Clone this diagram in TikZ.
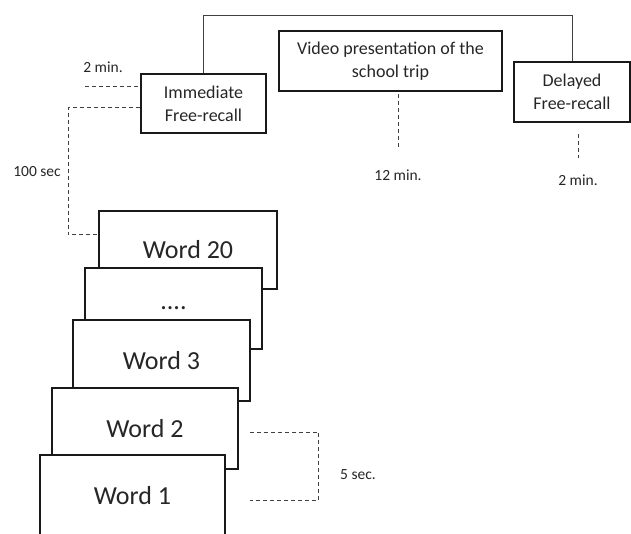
\documentclass[tikz,border=0pt]{standalone}
\usepackage{fontspec}
\setmainfont{Carlito}
\begin{document}
\begin{tikzpicture}[
        x=1pt, y=-1pt,
        font=\fontsize{18}{23}\selectfont,
        task/.style={
            draw=black!90,
            line width=1.8pt,
            align=center,
            inner sep=0pt,
            text=black!85
        },
        word/.style={
            draw=black!90,
            line width=1.8pt,
            fill=white,
            inner sep=0pt,
            minimum height=81pt,
            font=\fontsize{26}{30}\selectfont,
            text=black!85
        },
        gap/.style={
            draw=black!75,
            line width=1pt,
            dash pattern=on 4pt off 3pt
        },
        timing/.style={
            font=\fontsize{15.5}{18}\selectfont,
            text=black!85
        }
    ]

    \useasboundingbox (0,0) rectangle (631,534);
    \clip (0,0) rectangle (631,534);

    \node[task, minimum width=125pt, minimum height=59pt] (imm) at (203.5,103.5)
        {Immediate\\Free-recall};
    \node[task, minimum width=223pt, minimum height=60pt] (video) at (390.5,61)
        {Video presentation of the\\school trip};
    \node[task, minimum width=116pt, minimum height=60pt] (delayed) at (572,92)
        {Delayed\\Free-recall};

    \node[word, minimum width=178pt, minimum height=78pt] (w20) at (188,250) {Word 20};
    \node[word, minimum width=177pt] (wdots) at (173.5,308.5) {....};
    \node[word, minimum width=177pt] (w3) at (161.5,360.5) {Word 3};
    \node[word, minimum width=186pt] (w2) at (145,428.5) {Word 2};
    \node[word, minimum width=185pt] (w1) at (132.5,495.5) {Word 1};

    \coordinate (top) at (0,16);
    \coordinate (d1) at (85,87);
    \coordinate (d2) at (68,108);
    \coordinate (d2b) at (68,235);

    \draw[draw=black!75, line width=1pt] (imm.north) -- (imm.north |- top) -| (delayed.north);

    \draw[gap] (d1) -- (d1 -| imm.west);
    \draw[gap] (imm.west |- d2) -- (d2) -- (d2b) -- (d2b -| w20.west);
    \draw[gap] ([xshift=7.5pt,yshift=-2pt]video.south) -- ++(0,54);
    \draw[gap] ([xshift=6pt,yshift=-11pt]delayed.south) -- ++(0,24);
    \draw[gap] ([xshift=11pt,yshift=-3.5pt]w2.east) -| ([xshift=93pt,yshift=-4.5pt]w1.east)
        -- ([xshift=24pt,yshift=-4.5pt]w1.east);

    \node[timing] (t2a) at (103,67) {2 min.};
    \node[timing] (t100) at (37,172) {100 sec};
    \node[timing] (t12) at (398,175) {12 min.};
    \node[timing] (t2b) at (578,180) {2 min.};
    \node[timing] (t5) at (358,475) {5 sec.};

\end{tikzpicture}
\end{document}
